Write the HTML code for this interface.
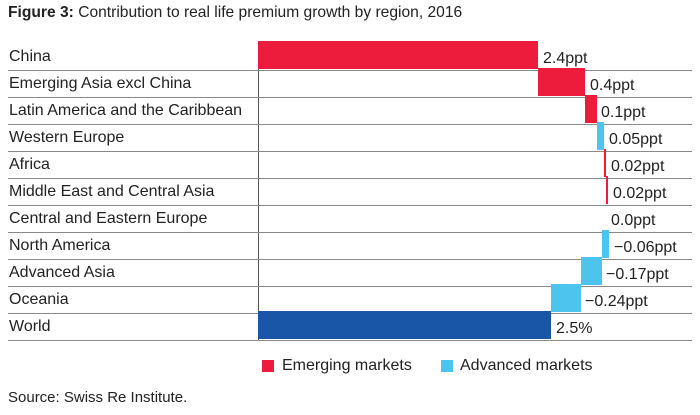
<!DOCTYPE html>
<html><head><style>
body{margin:0;width:700px;height:415px;background:#fff;font-family:"Liberation Sans",Arial,sans-serif;color:#222;position:relative;overflow:hidden}
.a{position:absolute;white-space:nowrap}
.l{font-size:16px}
.line{position:absolute;left:8px;width:684px;height:1px;background:#8a8a8a}
.b{position:absolute}
</style></head><body>
<div class="a" style="left:8px;top:4px;font-size:15.6px"><b>Figure 3:</b> Contribution to real life premium growth by region, 2016</div>
<div class="b" style="left:258px;top:41px;width:1px;height:300px;background:#555"></div>
<div id="c"></div>
<script>
var rows=[["China",258,538,"#ed1c3c","2.4ppt",543],
["Emerging Asia excl China",538,585,"#ed1c3c","0.4ppt",590],
["Latin America and the Caribbean",585,597,"#ed1c3c","0.1ppt",601],
["Western Europe",597,604,"#4cc4ee","0.05ppt",609],
["Africa",604,606,"#ed1c3c","0.02ppt",611],
["Middle East and Central Asia",606,608,"#ed1c3c","0.02ppt",613],
["Central and Eastern Europe",608,608,"#fff","0.0ppt",611],
["North America",602,609,"#4cc4ee","\u22120.06ppt",614],
["Advanced Asia",581,602,"#4cc4ee","\u22120.17ppt",606],
["Oceania",551,581,"#4cc4ee","\u22120.24ppt",585],
["World",258,551,"#1a56a8","2.5%",556]];
var h="";
rows.forEach(function(r,i){var t=43+27*i;
h+='<div class="b" style="left:'+r[1]+'px;top:'+(t-2)+'px;width:'+(r[2]-r[1])+'px;height:28px;background:'+r[3]+'"></div>';
h+='<div class="a l" style="left:9px;top:'+(t+5)+'px">'+r[0]+'</div>';
h+='<div class="a l" style="left:'+r[5]+'px;top:'+(t+7)+'px">'+r[4]+'</div>';
h+='<div class="line" style="top:'+(t+27)+'px"></div>';});
document.getElementById("c").innerHTML=h;
</script>
<div class="b" style="left:262px;top:360px;width:12px;height:12px;background:#ed1c3c"></div>
<div class="a l" style="left:282px;top:357px">Emerging markets</div>
<div class="b" style="left:441px;top:360px;width:12px;height:12px;background:#4cc4ee"></div>
<div class="a l" style="left:460px;top:357px">Advanced markets</div>
<div class="a" style="left:8px;top:389px;font-size:15px">Source: Swiss Re Institute.</div>
</body></html>
